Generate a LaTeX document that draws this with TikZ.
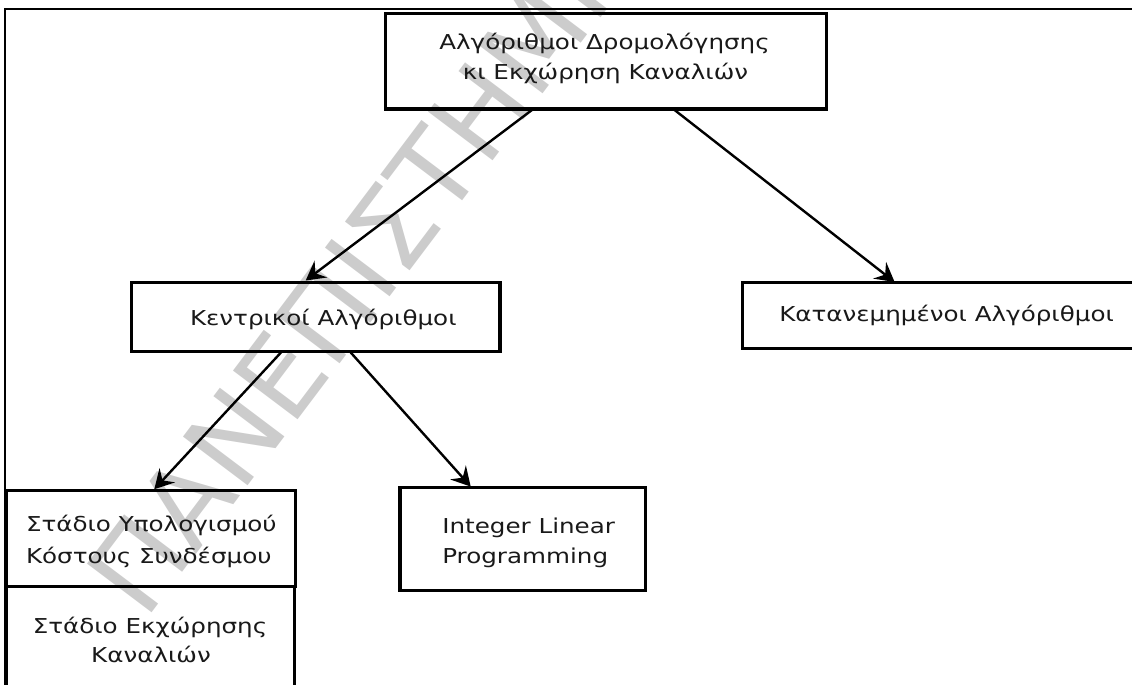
\documentclass[tikz,border=0pt]{standalone}
\usepackage{fontspec}
\setmainfont{DejaVu Sans}[FakeStretch=1.2]
\newfontfamily\markfont{DejaVu Sans}
\usetikzlibrary{arrows.meta,calc}

\begin{document}
\begin{tikzpicture}[x=1bp,y=-1bp,
  box/.style={draw, line width=3.2bp, rectangle, inner sep=0pt, outer sep=0pt, anchor=north west},
  txt/.style={inner sep=0pt, outer sep=0pt, text=black!90, font=\fontsize{20.5bp}{30bp}\selectfont},
  link/.style={line width=2.4bp, -{Stealth[length=19bp,width=21bp,inset=7bp]}},
  watermark/.style={inner sep=0pt, text=black!20, font=\markfont\fontsize{111bp}{111bp}\selectfont}
]
\useasboundingbox (0,0) rectangle (1132,685);
\clip (0,0) rectangle (1132,685);

% watermark behind everything
\node[watermark, rotate=53, anchor=base west] (wm) at (145,622) {ΠΑΝΕΠΙΣΤΗΜΙΟ};

% page frame
\draw[line width=1.8bp] (5.3,700) |- (1140,9.3);

% boxes
\node[box, minimum width=441bp, minimum height=95.5bp] (root) at (385.3,13.5) {};
\node[box, minimum width=368.7bp, minimum height=69.4bp] (kent) at (131.3,282.3) {};
\node[box, minimum width=420bp, minimum height=66bp] (kat) at (742.3,282.3) {};
\node[box, minimum width=288.6bp, minimum height=96.4bp] (calc) at (6.7,490.3) {};
\node[box, minimum width=287.6bp, minimum height=130bp] (assign) at (6.7,586.7) {};
\node[box, minimum width=245.7bp, minimum height=102.6bp] (ilp) at (400,487.7) {};

% labels
\node[txt, anchor=base] (root-a) at (604.5,50) {Αλγόριθμοι Δρομολόγησης};
\node[txt, anchor=base] (root-b) at (605.5,80) {κι Εκχώρηση Καναλιών};
\node[txt, anchor=base west] (kent-a) at (190,325) {Κεντρικοί Αλγόριθμοι};
\node[txt, anchor=base west] (kat-a) at (779.3,321.7) {Κατανεμημένοι Αλγόριθμοι};
\node[txt, anchor=base west] (calc-a) at (26,531.7) {Στάδιο Υπολογισμού};
\node[txt, anchor=base west] (calc-b) at (26,563.3) {Κόστους Συνδέσμου};
\node[txt, anchor=base] (assign-a) at (150,633.3) {Στάδιο Εκχώρησης};
\node[txt, anchor=base] (assign-b) at (151,662.3) {Καναλιών};
\node[txt, anchor=base west] (ilp-a) at (442.3,533.3) {Integer Linear};
\node[txt, anchor=base west] (ilp-b) at (442.3,563.3) {Programming};

% connectors
\draw[link, shorten >=3bp] ([xshift=148bp]root.south west) -- ([xshift=172bp]kent.north west);
\draw[link, shorten >=0.5bp] ([xshift=288bp]root.south west) -- ([xshift=152.7bp]kat.north west);
\draw[link, shorten >=1.5bp] ([xshift=150.4bp]kent.south west) -- ([xshift=146.6bp]calc.north west);
\draw[link, shorten >=1.5bp] ([xshift=218.7bp]kent.south west) -- ([xshift=71.7bp]ilp.north west);
\end{tikzpicture}
\end{document}
